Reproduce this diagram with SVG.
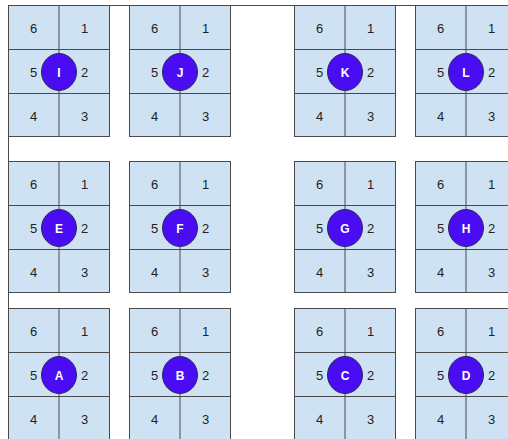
<svg xmlns="http://www.w3.org/2000/svg" width="508" height="439" viewBox="0 0 508 439">
<style>
.blk{fill:#cfe2f3;stroke:#4a4a4a;stroke-width:1}
.ln{stroke:#4a4a4a;stroke-width:1;fill:none}
.n{font-family:"Liberation Sans",Arial,sans-serif;font-size:13px;fill:#222;text-anchor:middle}
.dot{fill:#4a0cf2;stroke:#2a2a55;stroke-width:1}
.lb{font-family:"Liberation Sans",Arial,sans-serif;font-size:12px;font-weight:bold;fill:#fff;text-anchor:middle}
</style>
<rect width="508" height="439" fill="#fff"/>
<g id="frame"><path class="ln" d="M8.5,439 V5.5 H508" stroke="#6a6a6a"/></g>
<g id="connectors"></g>

<g id="I" transform="translate(8.5,5.5)">
<rect class="blk" width="101" height="131"/><path class="ln" d="M50.5,0V131M0,44H101M0,88H101"/>
<text class="n" x="25" y="27">6</text><text class="n" x="76" y="27">1</text>
<text class="n" x="25" y="71">5</text><text class="n" x="76" y="71">2</text>
<text class="n" x="25" y="115">4</text><text class="n" x="76" y="115">3</text>
<ellipse class="dot" cx="50.5" cy="66.5" rx="17.5" ry="18.5"/><text class="lb" x="50.5" y="71">I</text></g>

<g id="J" transform="translate(129.5,5.5)">
<rect class="blk" width="101" height="131"/><path class="ln" d="M50.5,0V131M0,44H101M0,88H101"/>
<text class="n" x="25" y="27">6</text><text class="n" x="76" y="27">1</text>
<text class="n" x="25" y="71">5</text><text class="n" x="76" y="71">2</text>
<text class="n" x="25" y="115">4</text><text class="n" x="76" y="115">3</text>
<ellipse class="dot" cx="50.5" cy="66.5" rx="17.5" ry="18.5"/><text class="lb" x="50.5" y="71">J</text></g>

<g id="K" transform="translate(294.5,5.5)">
<rect class="blk" width="101" height="131"/><path class="ln" d="M50.5,0V131M0,44H101M0,88H101"/>
<text class="n" x="25" y="27">6</text><text class="n" x="76" y="27">1</text>
<text class="n" x="25" y="71">5</text><text class="n" x="76" y="71">2</text>
<text class="n" x="25" y="115">4</text><text class="n" x="76" y="115">3</text>
<ellipse class="dot" cx="50.5" cy="66.5" rx="17.5" ry="18.5"/><text class="lb" x="50.5" y="71">K</text></g>

<g id="L" transform="translate(415.5,5.5)">
<rect class="blk" width="101" height="131"/><path class="ln" d="M50.5,0V131M0,44H101M0,88H101"/>
<text class="n" x="25" y="27">6</text><text class="n" x="76" y="27">1</text>
<text class="n" x="25" y="71">5</text><text class="n" x="76" y="71">2</text>
<text class="n" x="25" y="115">4</text><text class="n" x="76" y="115">3</text>
<ellipse class="dot" cx="50.5" cy="66.5" rx="17.5" ry="18.5"/><text class="lb" x="50.5" y="71">L</text></g>

<g id="E" transform="translate(8.5,161.5)">
<rect class="blk" width="101" height="131"/><path class="ln" d="M50.5,0V131M0,44H101M0,88H101"/>
<text class="n" x="25" y="27">6</text><text class="n" x="76" y="27">1</text>
<text class="n" x="25" y="71">5</text><text class="n" x="76" y="71">2</text>
<text class="n" x="25" y="115">4</text><text class="n" x="76" y="115">3</text>
<ellipse class="dot" cx="50.5" cy="66.5" rx="17.5" ry="18.5"/><text class="lb" x="50.5" y="71">E</text></g>

<g id="F" transform="translate(129.5,161.5)">
<rect class="blk" width="101" height="131"/><path class="ln" d="M50.5,0V131M0,44H101M0,88H101"/>
<text class="n" x="25" y="27">6</text><text class="n" x="76" y="27">1</text>
<text class="n" x="25" y="71">5</text><text class="n" x="76" y="71">2</text>
<text class="n" x="25" y="115">4</text><text class="n" x="76" y="115">3</text>
<ellipse class="dot" cx="50.5" cy="66.5" rx="17.5" ry="18.5"/><text class="lb" x="50.5" y="71">F</text></g>

<g id="G" transform="translate(294.5,161.5)">
<rect class="blk" width="101" height="131"/><path class="ln" d="M50.5,0V131M0,44H101M0,88H101"/>
<text class="n" x="25" y="27">6</text><text class="n" x="76" y="27">1</text>
<text class="n" x="25" y="71">5</text><text class="n" x="76" y="71">2</text>
<text class="n" x="25" y="115">4</text><text class="n" x="76" y="115">3</text>
<ellipse class="dot" cx="50.5" cy="66.5" rx="17.5" ry="18.5"/><text class="lb" x="50.5" y="71">G</text></g>

<g id="H" transform="translate(415.5,161.5)">
<rect class="blk" width="101" height="131"/><path class="ln" d="M50.5,0V131M0,44H101M0,88H101"/>
<text class="n" x="25" y="27">6</text><text class="n" x="76" y="27">1</text>
<text class="n" x="25" y="71">5</text><text class="n" x="76" y="71">2</text>
<text class="n" x="25" y="115">4</text><text class="n" x="76" y="115">3</text>
<ellipse class="dot" cx="50.5" cy="66.5" rx="17.5" ry="18.5"/><text class="lb" x="50.5" y="71">H</text></g>

<g id="A" transform="translate(8.5,308.5)">
<rect class="blk" width="101" height="131"/><path class="ln" d="M50.5,0V131M0,44H101M0,88H101"/>
<text class="n" x="25" y="27">6</text><text class="n" x="76" y="27">1</text>
<text class="n" x="25" y="71">5</text><text class="n" x="76" y="71">2</text>
<text class="n" x="25" y="115">4</text><text class="n" x="76" y="115">3</text>
<ellipse class="dot" cx="50.5" cy="66.5" rx="17.5" ry="18.5"/><text class="lb" x="50.5" y="71">A</text></g>

<g id="B" transform="translate(129.5,308.5)">
<rect class="blk" width="101" height="131"/><path class="ln" d="M50.5,0V131M0,44H101M0,88H101"/>
<text class="n" x="25" y="27">6</text><text class="n" x="76" y="27">1</text>
<text class="n" x="25" y="71">5</text><text class="n" x="76" y="71">2</text>
<text class="n" x="25" y="115">4</text><text class="n" x="76" y="115">3</text>
<ellipse class="dot" cx="50.5" cy="66.5" rx="17.5" ry="18.5"/><text class="lb" x="50.5" y="71">B</text></g>

<g id="C" transform="translate(294.5,308.5)">
<rect class="blk" width="101" height="131"/><path class="ln" d="M50.5,0V131M0,44H101M0,88H101"/>
<text class="n" x="25" y="27">6</text><text class="n" x="76" y="27">1</text>
<text class="n" x="25" y="71">5</text><text class="n" x="76" y="71">2</text>
<text class="n" x="25" y="115">4</text><text class="n" x="76" y="115">3</text>
<ellipse class="dot" cx="50.5" cy="66.5" rx="17.5" ry="18.5"/><text class="lb" x="50.5" y="71">C</text></g>

<g id="D" transform="translate(415.5,308.5)">
<rect class="blk" width="101" height="131"/><path class="ln" d="M50.5,0V131M0,44H101M0,88H101"/>
<text class="n" x="25" y="27">6</text><text class="n" x="76" y="27">1</text>
<text class="n" x="25" y="71">5</text><text class="n" x="76" y="71">2</text>
<text class="n" x="25" y="115">4</text><text class="n" x="76" y="115">3</text>
<ellipse class="dot" cx="50.5" cy="66.5" rx="17.5" ry="18.5"/><text class="lb" x="50.5" y="71">D</text></g>
</svg>
